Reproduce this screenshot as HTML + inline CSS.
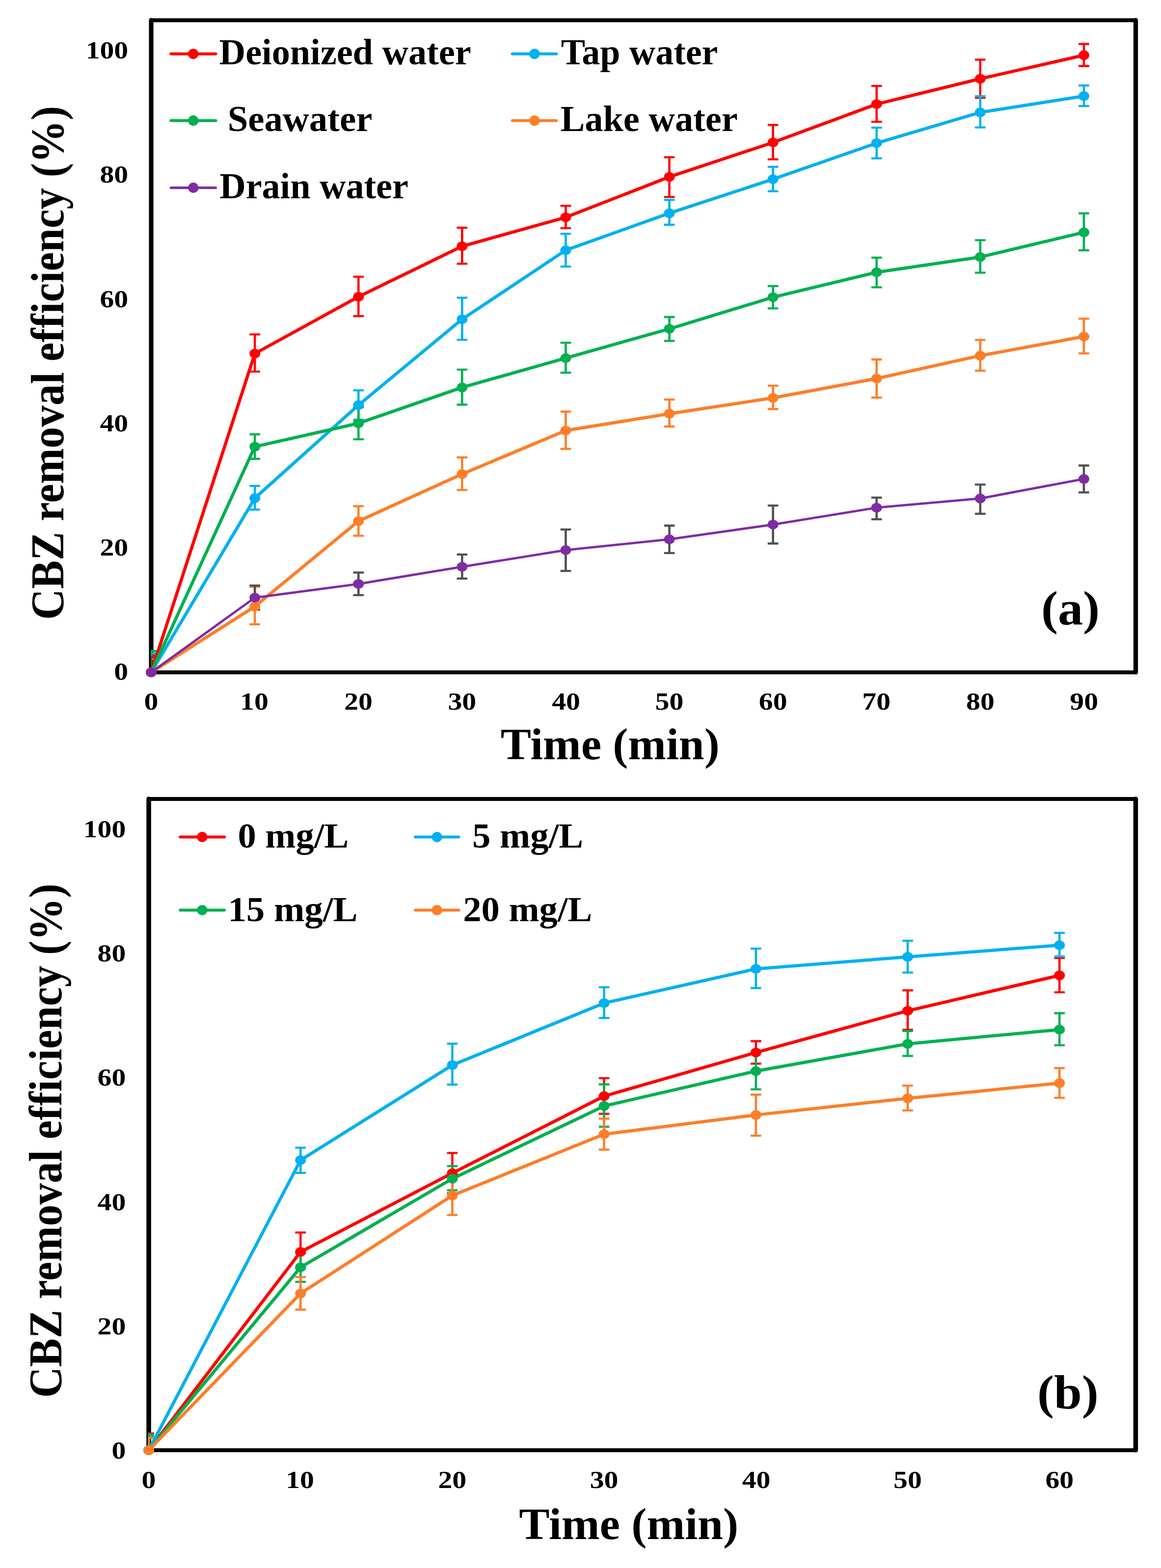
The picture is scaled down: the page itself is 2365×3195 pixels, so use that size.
<!DOCTYPE html>
<html><head><meta charset="utf-8"><title>CBZ removal efficiency</title><style>html,body{margin:0;padding:0;background:#fff;}svg{display:block;}</style></head><body>
<svg width="2365" height="3195" viewBox="0 0 2365 3195"><defs><clipPath id="clipA"><rect x="307" y="41" width="2006.5" height="1329"/></clipPath><clipPath id="clipB"><rect x="301.5" y="1627.7" width="2012" height="1327.3"/></clipPath></defs>
<rect x="308" y="41.2" width="2005.5" height="1328.8" fill="none" stroke="#000" stroke-width="7.9" stroke-linejoin="round"/>
<path d="M308,41.2V1370M2313.5,41.2V1370" stroke="#000" stroke-width="9.2" stroke-linecap="round"/>
<rect x="303" y="1628.0" width="2010.4" height="1327.0" fill="none" stroke="#000" stroke-width="7.9" stroke-linejoin="round"/>
<path d="M303,1628V2955M2313.4,1628V2955" stroke="#000" stroke-width="9.5" stroke-linecap="round"/>
<g clip-path="url(#clipA)" stroke="#FF0000" fill="none"><path d="M308.0,1336.0V1404.0M519.1,681.3V757.2M730.2,563.9V644.2M941.3,464.0V537.3M1152.4,419.3V464.8M1363.5,320.4V401.3M1574.6,254.6V324.7M1785.7,175.1V248.2M1996.8,121.7V199.3M2207.9,89.7V134.5" stroke-width="4.6"/><path d="M297.2,1336.0H318.8M297.2,1404.0H318.8M508.3,681.3H529.9M508.3,757.2H529.9M719.4,563.9H741.0M719.4,644.2H741.0M930.5,464.0H952.1M930.5,537.3H952.1M1141.6,419.3H1163.2M1141.6,464.8H1163.2M1352.7,320.4H1374.3M1352.7,401.3H1374.3M1563.8,254.6H1585.4M1563.8,324.7H1585.4M1774.9,175.1H1796.5M1774.9,248.2H1796.5M1986.0,121.7H2007.6M1986.0,199.3H2007.6M2197.1,89.7H2218.7M2197.1,134.5H2218.7" stroke-width="4.3"/></g>
<g clip-path="url(#clipA)" stroke="#00B0F0" fill="none"><path d="M308.0,1331.5V1408.0M519.1,990.2V1038.3M730.2,795.4V855.4M941.3,606.7V692.3M1152.4,476.4V543.1M1363.5,407.3V458.0M1574.6,339.8V389.7M1785.7,260.1V322.7M1996.8,196.1V259.6M2207.9,174.2V216.2" stroke-width="4.6"/><path d="M297.2,1331.5H318.8M297.2,1408.0H318.8M508.3,990.2H529.9M508.3,1038.3H529.9M719.4,795.4H741.0M719.4,855.4H741.0M930.5,606.7H952.1M930.5,692.3H952.1M1141.6,476.4H1163.2M1141.6,543.1H1163.2M1352.7,407.3H1374.3M1352.7,458.0H1374.3M1563.8,339.8H1585.4M1563.8,389.7H1585.4M1774.9,260.1H1796.5M1774.9,322.7H1796.5M1986.0,196.1H2007.6M1986.0,259.6H2007.6M2197.1,174.2H2218.7M2197.1,216.2H2218.7" stroke-width="4.3"/></g>
<g clip-path="url(#clipA)" stroke="#00B050" fill="none"><path d="M308.0,1326.5V1413.0M519.1,885.0V935.0M730.2,829.8V895.2M941.3,753.2V824.5M1152.4,698.4V759.3M1363.5,646.0V694.6M1574.6,582.8V628.4M1785.7,525.0V585.4M1996.8,489.4V555.7M2207.9,434.6V510.0" stroke-width="4.6"/><path d="M297.2,1326.5H318.8M297.2,1413.0H318.8M508.3,885.0H529.9M508.3,935.0H529.9M719.4,829.8H741.0M719.4,895.2H741.0M930.5,753.2H952.1M930.5,824.5H952.1M1141.6,698.4H1163.2M1141.6,759.3H1163.2M1352.7,646.0H1374.3M1352.7,694.6H1374.3M1563.8,582.8H1585.4M1563.8,628.4H1585.4M1774.9,525.0H1796.5M1774.9,585.4H1796.5M1986.0,489.4H2007.6M1986.0,555.7H2007.6M2197.1,434.6H2218.7M2197.1,510.0H2218.7" stroke-width="4.3"/></g>
<g clip-path="url(#clipA)" stroke="#FD7E28" fill="none"><path d="M308.0,1343.0V1397.0M519.1,1195.6V1272.2M730.2,1031.4V1091.7M941.3,932.0V998.4M1152.4,838.7V914.7M1363.5,814.2V869.2M1574.6,785.8V833.5M1785.7,732.5V810.1M1996.8,692.7V755.3M2207.9,649.3V720.1" stroke-width="4.6"/><path d="M297.2,1343.0H318.8M297.2,1397.0H318.8M508.3,1195.6H529.9M508.3,1272.2H529.9M719.4,1031.4H741.0M719.4,1091.7H741.0M930.5,932.0H952.1M930.5,998.4H952.1M1141.6,838.7H1163.2M1141.6,914.7H1163.2M1352.7,814.2H1374.3M1352.7,869.2H1374.3M1563.8,785.8H1585.4M1563.8,833.5H1585.4M1774.9,732.5H1796.5M1774.9,810.1H1796.5M1986.0,692.7H2007.6M1986.0,755.3H2007.6M2197.1,649.3H2218.7M2197.1,720.1H2218.7" stroke-width="4.3"/></g>
<g clip-path="url(#clipA)" stroke="#505050" fill="none"><path d="M308.0,1339.0V1401.0M519.1,1193.2V1242.4M730.2,1166.6V1212.6M941.3,1129.8V1178.8M1152.4,1078.9V1163.3M1363.5,1071.0V1126.9M1574.6,1030.1V1107.5M1785.7,1013.9V1058.2M1996.8,987.4V1046.8M2207.9,948.5V1003.3" stroke-width="4.6"/><path d="M297.2,1339.0H318.8M297.2,1401.0H318.8M508.3,1193.2H529.9M508.3,1242.4H529.9M719.4,1166.6H741.0M719.4,1212.6H741.0M930.5,1129.8H952.1M930.5,1178.8H952.1M1141.6,1078.9H1163.2M1141.6,1163.3H1163.2M1352.7,1071.0H1374.3M1352.7,1126.9H1374.3M1563.8,1030.1H1585.4M1563.8,1107.5H1585.4M1774.9,1013.9H1796.5M1774.9,1058.2H1796.5M1986.0,987.4H2007.6M1986.0,1046.8H2007.6M2197.1,948.5H2218.7M2197.1,1003.3H2218.7" stroke-width="4.3"/></g>
<path d="M308.0,1370.0L519.1,720.5L730.2,604.7L941.3,501.8L1152.4,442.8L1363.5,360.4L1574.6,290.3L1785.7,212.1L1996.8,160.5L2207.9,112.5" stroke="#FF0000" stroke-width="6.5" fill="none" stroke-linejoin="round" stroke-linecap="round"/>
<path d="M308.0,1370.0L519.1,1015.0L730.2,825.4L941.3,650.6L1152.4,509.9L1363.5,434.4L1574.6,365.2L1785.7,291.6L1996.8,229.0L2207.9,195.7" stroke="#00B0F0" stroke-width="6.5" fill="none" stroke-linejoin="round" stroke-linecap="round"/>
<path d="M308.0,1370.0L519.1,910.2L730.2,862.5L941.3,789.4L1152.4,729.7L1363.5,670.1L1574.6,605.6L1785.7,554.7L1996.8,523.7L2207.9,473.4" stroke="#00B050" stroke-width="6.5" fill="none" stroke-linejoin="round" stroke-linecap="round"/>
<path d="M308.0,1370.0L519.1,1235.8L730.2,1061.8L941.3,966.0L1152.4,877.3L1363.5,843.0L1574.6,810.8L1785.7,771.3L1996.8,724.7L2207.9,685.8" stroke="#FD7E28" stroke-width="6.5" fill="none" stroke-linejoin="round" stroke-linecap="round"/>
<path d="M308.0,1370.0L519.1,1217.8L730.2,1189.8L941.3,1154.9L1152.4,1120.9L1363.5,1098.9L1574.6,1068.8L1785.7,1034.4L1996.8,1015.7L2207.9,975.9" stroke="#7E2CA5" stroke-width="4.8" fill="none" stroke-linejoin="round" stroke-linecap="round"/>
<ellipse cx="308.0" cy="1370.0" rx="11.0" ry="9.9" fill="#FF0000"/>
<ellipse cx="519.1" cy="720.5" rx="11.0" ry="9.9" fill="#FF0000"/>
<ellipse cx="730.2" cy="604.7" rx="11.0" ry="9.9" fill="#FF0000"/>
<ellipse cx="941.3" cy="501.8" rx="11.0" ry="9.9" fill="#FF0000"/>
<ellipse cx="1152.4" cy="442.8" rx="11.0" ry="9.9" fill="#FF0000"/>
<ellipse cx="1363.5" cy="360.4" rx="11.0" ry="9.9" fill="#FF0000"/>
<ellipse cx="1574.6" cy="290.3" rx="11.0" ry="9.9" fill="#FF0000"/>
<ellipse cx="1785.7" cy="212.1" rx="11.0" ry="9.9" fill="#FF0000"/>
<ellipse cx="1996.8" cy="160.5" rx="11.0" ry="9.9" fill="#FF0000"/>
<ellipse cx="2207.9" cy="112.5" rx="11.0" ry="9.9" fill="#FF0000"/>
<ellipse cx="308.0" cy="1370.0" rx="11.0" ry="9.9" fill="#00B0F0"/>
<ellipse cx="519.1" cy="1015.0" rx="11.0" ry="9.9" fill="#00B0F0"/>
<ellipse cx="730.2" cy="825.4" rx="11.0" ry="9.9" fill="#00B0F0"/>
<ellipse cx="941.3" cy="650.6" rx="11.0" ry="9.9" fill="#00B0F0"/>
<ellipse cx="1152.4" cy="509.9" rx="11.0" ry="9.9" fill="#00B0F0"/>
<ellipse cx="1363.5" cy="434.4" rx="11.0" ry="9.9" fill="#00B0F0"/>
<ellipse cx="1574.6" cy="365.2" rx="11.0" ry="9.9" fill="#00B0F0"/>
<ellipse cx="1785.7" cy="291.6" rx="11.0" ry="9.9" fill="#00B0F0"/>
<ellipse cx="1996.8" cy="229.0" rx="11.0" ry="9.9" fill="#00B0F0"/>
<ellipse cx="2207.9" cy="195.7" rx="11.0" ry="9.9" fill="#00B0F0"/>
<ellipse cx="308.0" cy="1370.0" rx="11.0" ry="9.9" fill="#00B050"/>
<ellipse cx="519.1" cy="910.2" rx="11.0" ry="9.9" fill="#00B050"/>
<ellipse cx="730.2" cy="862.5" rx="11.0" ry="9.9" fill="#00B050"/>
<ellipse cx="941.3" cy="789.4" rx="11.0" ry="9.9" fill="#00B050"/>
<ellipse cx="1152.4" cy="729.7" rx="11.0" ry="9.9" fill="#00B050"/>
<ellipse cx="1363.5" cy="670.1" rx="11.0" ry="9.9" fill="#00B050"/>
<ellipse cx="1574.6" cy="605.6" rx="11.0" ry="9.9" fill="#00B050"/>
<ellipse cx="1785.7" cy="554.7" rx="11.0" ry="9.9" fill="#00B050"/>
<ellipse cx="1996.8" cy="523.7" rx="11.0" ry="9.9" fill="#00B050"/>
<ellipse cx="2207.9" cy="473.4" rx="11.0" ry="9.9" fill="#00B050"/>
<ellipse cx="308.0" cy="1370.0" rx="11.0" ry="9.9" fill="#FD7E28"/>
<ellipse cx="519.1" cy="1235.8" rx="11.0" ry="9.9" fill="#FD7E28"/>
<ellipse cx="730.2" cy="1061.8" rx="11.0" ry="9.9" fill="#FD7E28"/>
<ellipse cx="941.3" cy="966.0" rx="11.0" ry="9.9" fill="#FD7E28"/>
<ellipse cx="1152.4" cy="877.3" rx="11.0" ry="9.9" fill="#FD7E28"/>
<ellipse cx="1363.5" cy="843.0" rx="11.0" ry="9.9" fill="#FD7E28"/>
<ellipse cx="1574.6" cy="810.8" rx="11.0" ry="9.9" fill="#FD7E28"/>
<ellipse cx="1785.7" cy="771.3" rx="11.0" ry="9.9" fill="#FD7E28"/>
<ellipse cx="1996.8" cy="724.7" rx="11.0" ry="9.9" fill="#FD7E28"/>
<ellipse cx="2207.9" cy="685.8" rx="11.0" ry="9.9" fill="#FD7E28"/>
<ellipse cx="308.0" cy="1370.0" rx="11.0" ry="9.9" fill="#7E2CA5"/>
<ellipse cx="519.1" cy="1217.8" rx="11.0" ry="9.9" fill="#7E2CA5"/>
<ellipse cx="730.2" cy="1189.8" rx="11.0" ry="9.9" fill="#7E2CA5"/>
<ellipse cx="941.3" cy="1154.9" rx="11.0" ry="9.9" fill="#7E2CA5"/>
<ellipse cx="1152.4" cy="1120.9" rx="11.0" ry="9.9" fill="#7E2CA5"/>
<ellipse cx="1363.5" cy="1098.9" rx="11.0" ry="9.9" fill="#7E2CA5"/>
<ellipse cx="1574.6" cy="1068.8" rx="11.0" ry="9.9" fill="#7E2CA5"/>
<ellipse cx="1785.7" cy="1034.4" rx="11.0" ry="9.9" fill="#7E2CA5"/>
<ellipse cx="1996.8" cy="1015.7" rx="11.0" ry="9.9" fill="#7E2CA5"/>
<ellipse cx="2207.9" cy="975.9" rx="11.0" ry="9.9" fill="#7E2CA5"/>
<g clip-path="url(#clipB)" stroke="#FF0000" fill="none"><path d="M303.0,2921.0V2989.0M612.2,2511.3V2584.0M921.4,2349.3V2431.4M1230.6,2196.9V2269.7M1539.8,2121.5V2167.3M1849.0,2018.0V2098.5M2158.2,1952.1V2021.8" stroke-width="4.6"/><path d="M292.2,2921.0H313.8M292.2,2989.0H313.8M601.4,2511.3H623.0M601.4,2584.0H623.0M910.6,2349.3H932.2M910.6,2431.4H932.2M1219.8,2196.9H1241.4M1219.8,2269.7H1241.4M1529.0,2121.5H1550.6M1529.0,2167.3H1550.6M1838.2,2018.0H1859.8M1838.2,2098.5H1859.8M2147.4,1952.1H2169.0M2147.4,2021.8H2169.0" stroke-width="4.3"/></g>
<g clip-path="url(#clipB)" stroke="#00B0F0" fill="none"><path d="M303.0,2927.2V2983.0M612.2,2338.6V2389.8M921.4,2126.7V2210.0M1230.6,2011.7V2074.4M1539.8,1932.8V2013.4M1849.0,1916.9V1981.7M2158.2,1900.9V1948.9" stroke-width="4.6"/><path d="M292.2,2927.2H313.8M292.2,2983.0H313.8M601.4,2338.6H623.0M601.4,2389.8H623.0M910.6,2126.7H932.2M910.6,2210.0H932.2M1219.8,2011.7H1241.4M1219.8,2074.4H1241.4M1529.0,1932.8H1550.6M1529.0,2013.4H1550.6M1838.2,1916.9H1859.8M1838.2,1981.7H1859.8M2147.4,1900.9H2169.0M2147.4,1948.9H2169.0" stroke-width="4.3"/></g>
<g clip-path="url(#clipB)" stroke="#00B050" fill="none"><path d="M303.0,2923.2V2987.0M612.2,2552.7V2611.9M921.4,2376.1V2425.4M1230.6,2209.5V2295.8M1539.8,2145.5V2219.6M1849.0,2100.8V2151.7M2158.2,2064.5V2129.9" stroke-width="4.6"/><path d="M292.2,2923.2H313.8M292.2,2987.0H313.8M601.4,2552.7H623.0M601.4,2611.9H623.0M910.6,2376.1H932.2M910.6,2425.4H932.2M1219.8,2209.5H1241.4M1219.8,2295.8H1241.4M1529.0,2145.5H1550.6M1529.0,2219.6H1550.6M1838.2,2100.8H1859.8M1838.2,2151.7H1859.8M2147.4,2064.5H2169.0M2147.4,2129.9H2169.0" stroke-width="4.3"/></g>
<g clip-path="url(#clipB)" stroke="#FD7E28" fill="none"><path d="M303.0,2930.0V2980.0M612.2,2602.1V2668.5M921.4,2396.5V2475.7M1230.6,2279.3V2342.5M1539.8,2230.5V2314.2M1849.0,2212.1V2262.7M2158.2,2176.4V2236.8" stroke-width="4.6"/><path d="M292.2,2930.0H313.8M292.2,2980.0H313.8M601.4,2602.1H623.0M601.4,2668.5H623.0M910.6,2396.5H932.2M910.6,2475.7H932.2M1219.8,2279.3H1241.4M1219.8,2342.5H1241.4M1529.0,2230.5H1550.6M1529.0,2314.2H1550.6M1838.2,2212.1H1859.8M1838.2,2262.7H1859.8M2147.4,2176.4H2169.0M2147.4,2236.8H2169.0" stroke-width="4.3"/></g>
<path d="M303.0,2955.0L612.2,2550.9L921.4,2390.4L1230.6,2233.5L1539.8,2144.6L1849.0,2059.6L2158.2,1987.5" stroke="#FF0000" stroke-width="6.5" fill="none" stroke-linejoin="round" stroke-linecap="round"/>
<path d="M303.0,2955.0L612.2,2363.9L921.4,2170.3L1230.6,2043.9L1539.8,1974.2L1849.0,1949.7L2158.2,1925.9" stroke="#00B0F0" stroke-width="6.5" fill="none" stroke-linejoin="round" stroke-linecap="round"/>
<path d="M303.0,2955.0L612.2,2582.3L921.4,2401.7L1230.6,2253.6L1539.8,2182.5L1849.0,2127.0L2158.2,2097.9" stroke="#00B050" stroke-width="6.5" fill="none" stroke-linejoin="round" stroke-linecap="round"/>
<path d="M303.0,2955.0L612.2,2635.6L921.4,2436.1L1230.6,2311.1L1539.8,2271.9L1849.0,2238.0L2158.2,2206.9" stroke="#FD7E28" stroke-width="6.5" fill="none" stroke-linejoin="round" stroke-linecap="round"/>
<ellipse cx="303.0" cy="2955.0" rx="11.0" ry="9.9" fill="#FF0000"/>
<ellipse cx="612.2" cy="2550.9" rx="11.0" ry="9.9" fill="#FF0000"/>
<ellipse cx="921.4" cy="2390.4" rx="11.0" ry="9.9" fill="#FF0000"/>
<ellipse cx="1230.6" cy="2233.5" rx="11.0" ry="9.9" fill="#FF0000"/>
<ellipse cx="1539.8" cy="2144.6" rx="11.0" ry="9.9" fill="#FF0000"/>
<ellipse cx="1849.0" cy="2059.6" rx="11.0" ry="9.9" fill="#FF0000"/>
<ellipse cx="2158.2" cy="1987.5" rx="11.0" ry="9.9" fill="#FF0000"/>
<ellipse cx="303.0" cy="2955.0" rx="11.0" ry="9.9" fill="#00B0F0"/>
<ellipse cx="612.2" cy="2363.9" rx="11.0" ry="9.9" fill="#00B0F0"/>
<ellipse cx="921.4" cy="2170.3" rx="11.0" ry="9.9" fill="#00B0F0"/>
<ellipse cx="1230.6" cy="2043.9" rx="11.0" ry="9.9" fill="#00B0F0"/>
<ellipse cx="1539.8" cy="1974.2" rx="11.0" ry="9.9" fill="#00B0F0"/>
<ellipse cx="1849.0" cy="1949.7" rx="11.0" ry="9.9" fill="#00B0F0"/>
<ellipse cx="2158.2" cy="1925.9" rx="11.0" ry="9.9" fill="#00B0F0"/>
<ellipse cx="303.0" cy="2955.0" rx="11.0" ry="9.9" fill="#00B050"/>
<ellipse cx="612.2" cy="2582.3" rx="11.0" ry="9.9" fill="#00B050"/>
<ellipse cx="921.4" cy="2401.7" rx="11.0" ry="9.9" fill="#00B050"/>
<ellipse cx="1230.6" cy="2253.6" rx="11.0" ry="9.9" fill="#00B050"/>
<ellipse cx="1539.8" cy="2182.5" rx="11.0" ry="9.9" fill="#00B050"/>
<ellipse cx="1849.0" cy="2127.0" rx="11.0" ry="9.9" fill="#00B050"/>
<ellipse cx="2158.2" cy="2097.9" rx="11.0" ry="9.9" fill="#00B050"/>
<ellipse cx="303.0" cy="2955.0" rx="11.0" ry="9.9" fill="#FD7E28"/>
<ellipse cx="612.2" cy="2635.6" rx="11.0" ry="9.9" fill="#FD7E28"/>
<ellipse cx="921.4" cy="2436.1" rx="11.0" ry="9.9" fill="#FD7E28"/>
<ellipse cx="1230.6" cy="2311.1" rx="11.0" ry="9.9" fill="#FD7E28"/>
<ellipse cx="1539.8" cy="2271.9" rx="11.0" ry="9.9" fill="#FD7E28"/>
<ellipse cx="1849.0" cy="2238.0" rx="11.0" ry="9.9" fill="#FD7E28"/>
<ellipse cx="2158.2" cy="2206.9" rx="11.0" ry="9.9" fill="#FD7E28"/>
<path d="M348.3,109.8H439.4" stroke="#FF0000" stroke-width="6.0" stroke-linecap="round"/><circle cx="393.8" cy="109.8" r="10.6" fill="#FF0000"/>
<path d="M1043.7,109.8H1133.3" stroke="#00B0F0" stroke-width="6.0" stroke-linecap="round"/><circle cx="1088.8" cy="109.8" r="10.6" fill="#00B0F0"/>
<path d="M348.3,245.7H439.4" stroke="#00B050" stroke-width="6.0" stroke-linecap="round"/><circle cx="393.8" cy="245.7" r="10.6" fill="#00B050"/>
<path d="M1043.7,245.8H1133.3" stroke="#FD7E28" stroke-width="6.0" stroke-linecap="round"/><circle cx="1088.8" cy="245.8" r="10.6" fill="#FD7E28"/>
<path d="M348.3,382.6H439.4" stroke="#7E2CA5" stroke-width="5.2" stroke-linecap="round"/><circle cx="393.8" cy="382.6" r="10.6" fill="#7E2CA5"/>
<path d="M367.3,1705.6H457.0" stroke="#FF0000" stroke-width="6.0" stroke-linecap="round"/><circle cx="411.9" cy="1705.6" r="10.6" fill="#FF0000"/>
<path d="M846.0,1705.6H934.4" stroke="#00B0F0" stroke-width="6.0" stroke-linecap="round"/><circle cx="890.2" cy="1705.6" r="10.6" fill="#00B0F0"/>
<path d="M367.3,1854.5H457.0" stroke="#00B050" stroke-width="6.0" stroke-linecap="round"/><circle cx="411.9" cy="1854.5" r="10.6" fill="#00B050"/>
<path d="M846.0,1854.5H934.4" stroke="#FD7E28" stroke-width="6.0" stroke-linecap="round"/><circle cx="890.2" cy="1854.5" r="10.6" fill="#FD7E28"/>
<g fill="#000" style="font-family:'Liberation Serif','Times New Roman',serif;font-weight:bold">
<text x="446.60" y="131.20" font-size="74.00" textLength="513.10" lengthAdjust="spacingAndGlyphs">Deionized water</text>
<text x="1142.67" y="131.40" font-size="74.00" textLength="319.79" lengthAdjust="spacingAndGlyphs">Tap water</text>
<text x="463.82" y="266.90" font-size="74.00" textLength="294.48" lengthAdjust="spacingAndGlyphs">Seawater</text>
<text x="1141.73" y="267.20" font-size="74.00" textLength="360.97" lengthAdjust="spacingAndGlyphs">Lake water</text>
<text x="447.20" y="404.20" font-size="74.00" textLength="384.69" lengthAdjust="spacingAndGlyphs">Drain water</text>
<text x="484.46" y="1726.90" font-size="72.50" textLength="225.67" lengthAdjust="spacingAndGlyphs">0 mg/L</text>
<text x="962.11" y="1726.70" font-size="72.50" textLength="225.92" lengthAdjust="spacingAndGlyphs">5 mg/L</text>
<text x="464.40" y="1876.60" font-size="72.50" textLength="264.14" lengthAdjust="spacingAndGlyphs">15 mg/L</text>
<text x="943.37" y="1876.60" font-size="72.50" textLength="262.86" lengthAdjust="spacingAndGlyphs">20 mg/L</text>
<text x="232.36" y="1385.27" font-size="51.50" textLength="28.84" lengthAdjust="spacingAndGlyphs">0</text>
<text x="203.52" y="1132.07" font-size="51.50" textLength="57.68" lengthAdjust="spacingAndGlyphs">20</text>
<text x="203.52" y="878.87" font-size="51.50" textLength="57.68" lengthAdjust="spacingAndGlyphs">40</text>
<text x="203.52" y="625.67" font-size="51.50" textLength="57.68" lengthAdjust="spacingAndGlyphs">60</text>
<text x="203.52" y="372.47" font-size="51.50" textLength="57.68" lengthAdjust="spacingAndGlyphs">80</text>
<text x="174.68" y="119.27" font-size="51.50" textLength="86.52" lengthAdjust="spacingAndGlyphs">100</text>
<text x="293.58" y="1446.30" font-size="51.50" textLength="28.84" lengthAdjust="spacingAndGlyphs">0</text>
<text x="489.05" y="1446.30" font-size="51.50" textLength="57.68" lengthAdjust="spacingAndGlyphs">10</text>
<text x="701.25" y="1446.30" font-size="51.50" textLength="57.68" lengthAdjust="spacingAndGlyphs">20</text>
<text x="912.47" y="1446.30" font-size="51.50" textLength="57.68" lengthAdjust="spacingAndGlyphs">30</text>
<text x="1124.26" y="1446.30" font-size="51.50" textLength="57.68" lengthAdjust="spacingAndGlyphs">40</text>
<text x="1334.60" y="1446.30" font-size="51.50" textLength="57.68" lengthAdjust="spacingAndGlyphs">50</text>
<text x="1545.87" y="1446.30" font-size="51.50" textLength="57.68" lengthAdjust="spacingAndGlyphs">60</text>
<text x="1756.31" y="1446.30" font-size="51.50" textLength="57.68" lengthAdjust="spacingAndGlyphs">70</text>
<text x="1968.10" y="1446.30" font-size="51.50" textLength="57.68" lengthAdjust="spacingAndGlyphs">80</text>
<text x="2179.37" y="1446.30" font-size="51.50" textLength="57.68" lengthAdjust="spacingAndGlyphs">90</text>
<text x="227.46" y="2971.87" font-size="51.50" textLength="28.84" lengthAdjust="spacingAndGlyphs">0</text>
<text x="198.62" y="2718.71" font-size="51.50" textLength="57.68" lengthAdjust="spacingAndGlyphs">20</text>
<text x="198.62" y="2465.55" font-size="51.50" textLength="57.68" lengthAdjust="spacingAndGlyphs">40</text>
<text x="198.62" y="2212.39" font-size="51.50" textLength="57.68" lengthAdjust="spacingAndGlyphs">60</text>
<text x="198.62" y="1959.23" font-size="51.50" textLength="57.68" lengthAdjust="spacingAndGlyphs">80</text>
<text x="169.78" y="1706.07" font-size="51.50" textLength="86.52" lengthAdjust="spacingAndGlyphs">100</text>
<text x="288.58" y="3031.70" font-size="51.50" textLength="28.84" lengthAdjust="spacingAndGlyphs">0</text>
<text x="582.15" y="3031.70" font-size="51.50" textLength="57.68" lengthAdjust="spacingAndGlyphs">10</text>
<text x="892.45" y="3031.70" font-size="51.50" textLength="57.68" lengthAdjust="spacingAndGlyphs">20</text>
<text x="1201.77" y="3031.70" font-size="51.50" textLength="57.68" lengthAdjust="spacingAndGlyphs">30</text>
<text x="1511.66" y="3031.70" font-size="51.50" textLength="57.68" lengthAdjust="spacingAndGlyphs">40</text>
<text x="1820.10" y="3031.70" font-size="51.50" textLength="57.68" lengthAdjust="spacingAndGlyphs">50</text>
<text x="2129.47" y="3031.70" font-size="51.50" textLength="57.68" lengthAdjust="spacingAndGlyphs">60</text>
<text x="1019.75" y="1546.50" font-size="90.00" textLength="445.93" lengthAdjust="spacingAndGlyphs">Time (min)</text>
<text x="1057.35" y="3135.90" font-size="90.00" textLength="446.74" lengthAdjust="spacingAndGlyphs">Time (min)</text>
<text transform="translate(128.80,1263.05) rotate(-90)" x="0" y="0" font-size="94.50" textLength="1047.18" lengthAdjust="spacingAndGlyphs">CBZ removal efficiency (%)</text>
<text transform="translate(124.80,2848.26) rotate(-90)" x="0" y="0" font-size="94.50" textLength="1047.89" lengthAdjust="spacingAndGlyphs">CBZ removal efficiency (%)</text>
<text x="2120.91" y="1271.98" font-size="96.83" textLength="119.18" lengthAdjust="spacingAndGlyphs">(a)</text>
<text x="2113.02" y="2869.51" font-size="96.72" textLength="124.56" lengthAdjust="spacingAndGlyphs">(b)</text>
</g></svg>
</body></html>
